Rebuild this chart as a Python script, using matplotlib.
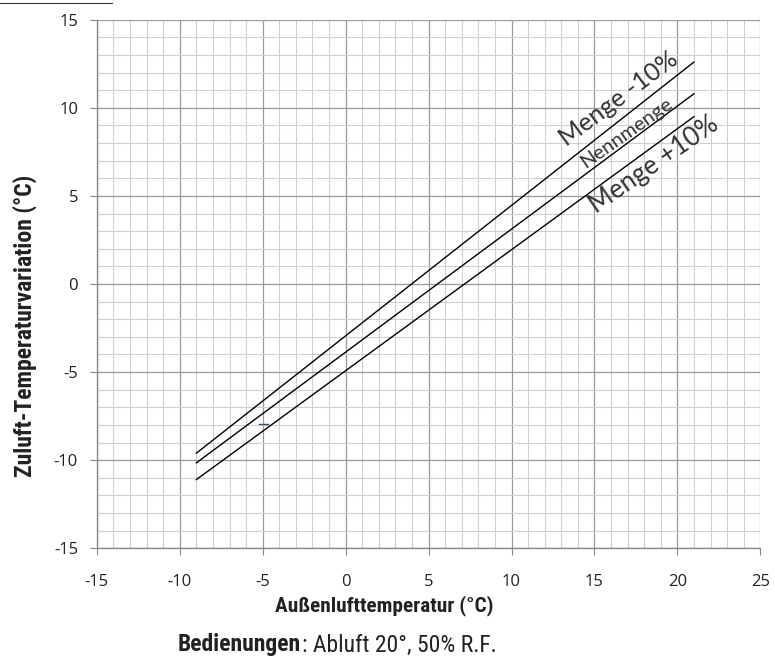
import matplotlib
matplotlib.use("Agg")
import matplotlib.pyplot as plt
import numpy as np

plt.rcParams["axes.unicode_minus"] = False

# line end points (x = outdoor temp, y = supply temp variation)
x_ends = [-9, 21]
menge_minus = [-9.6, 12.6]
nennmenge = [-10.15, 10.8]
menge_plus = [-11.1, 9.5]

series = [("Menge -10%", menge_minus, (16.45, 10.5), 18),
          ("Nennmenge", nennmenge, (16.9, 8.6), 14.5),
          ("Menge +10%", menge_plus, (18.6, 6.75), 18.5)]

x_ticks = [-15, -10, -5, 0, 5, 10, 15, 20, 25]
y_ticks = [-15, -10, -5, 0, 5, 10, 15]

tick_font = "Open Sans"
cond_font = ["Roboto Condensed", "Liberation Sans Narrow", "Roboto", "DejaVu Sans"]

fig = plt.figure(figsize=(7.75, 6.59), dpi=100)
ax = fig.add_axes([0.125, 0.168, 0.856, 0.802])

for name, ys, pos, fs in series:
    ax.plot(x_ends, ys, color="black", lw=1.0, zorder=3)

# angle of the lines on screen
fig.canvas.draw()
for name, ys, pos, fs in series:
    p1 = ax.transData.transform((x_ends[0], ys[0]))
    p2 = ax.transData.transform((x_ends[1], ys[1]))
    ang = np.degrees(np.arctan2(p2[1] - p1[1], p2[0] - p1[0]))
    ax.text(pos[0], pos[1], name, rotation=ang, rotation_mode="anchor",
            ha="center", va="center", fontsize=fs, color="#333333",
            family=["Lato", "DejaVu Sans"], fontweight="normal", zorder=4)

# small stray marker near x=-5
ax.plot([-5.2, -4.7], [-7.95, -7.95], color="#3a4d6e", lw=1, zorder=3)

ax.set_xlim(-15, 25)
ax.set_ylim(-15, 15)
ax.set_xticks(x_ticks)
ax.set_yticks(y_ticks)
ax.set_xticks(np.arange(-15, 26, 1), minor=True)
ax.set_yticks(np.arange(-15, 16, 1), minor=True)
ax.grid(which="major", color="#9a9a9a", lw=0.9, zorder=1)
ax.grid(which="minor", color="#d0d0d0", lw=0.8, zorder=0)
ax.set_axisbelow(True)

for s in ["top", "right"]:
    ax.spines[s].set_visible(False)
for s in ["left", "bottom"]:
    ax.spines[s].set_color("#8a8a8a")
    ax.spines[s].set_linewidth(1)

ax.tick_params(which="major", direction="out", length=5, color="#8a8a8a",
               labelsize=12, labelcolor="#222222")
ax.tick_params(axis="x", pad=13.5)
ax.tick_params(axis="y", pad=8.5)
ax.tick_params(which="minor", length=0)
for lab in ax.get_xticklabels() + ax.get_yticklabels():
    lab.set_family(tick_font)

fig.text(384 / 775, 1 - 606 / 659, "Außenlufttemperatur (°C)", ha="center", va="center",
         family=cond_font, fontstretch="condensed", fontweight="bold",
         fontsize=15.3, color="#222222")
fig.text(25 / 775, 1 - 326 / 659, "Zuluft-Temperaturvariation (°C)", ha="center",
         va="center", rotation=90, family=cond_font, fontstretch="condensed",
         fontweight="bold", fontsize=17, color="#222222")

fig.text(301 / 775, 1 - 645 / 659, "Bedienungen", ha="right", va="center",
         family=cond_font, fontstretch="condensed", fontweight="bold",
         fontsize=17, color="#222222")
fig.text(302 / 775, 1 - 645 / 659, ": Abluft 20°, 50% R.F.", ha="left", va="center",
         family=cond_font, fontstretch="condensed", fontsize=17, color="#222222")

# cropped underline at the top left
fig.add_artist(plt.Line2D([0, 112 / 775], [1 - 3 / 659, 1 - 3 / 659],
                          color="#333333", lw=0.8))

fig.savefig("out.png", dpi=100)
